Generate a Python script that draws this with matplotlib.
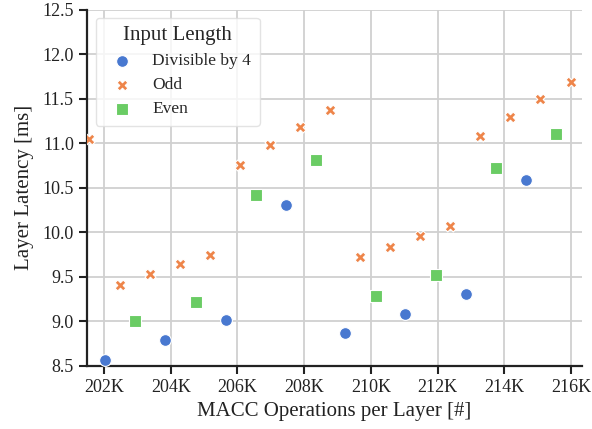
import matplotlib.pyplot as plt
import seaborn as sns
from matplotlib.ticker import FuncFormatter, MultipleLocator

# MACC operations per layer (raw counts) and latency in ms
div4_macc = [202030, 203830, 205650, 207450, 209230, 211030, 212840, 214650]
div4_lat = [8.57, 8.79, 9.02, 10.31, 8.87, 9.08, 9.31, 10.59]

odd_macc = [201550, 202470, 203380, 204280, 205180, 206080, 206980, 207880, 208780,
            209680, 210580, 211480, 212380, 213280, 214180, 215080, 215990]
odd_lat = [11.05, 9.41, 9.53, 9.64, 9.75, 10.76, 10.98, 11.18, 11.37,
           9.72, 9.84, 9.96, 10.07, 11.08, 11.30, 11.50, 11.69]

even_macc = [202930, 204750, 206560, 208360, 210160, 211950, 213760, 215550]
even_lat = [9.00, 9.22, 10.42, 10.81, 9.29, 9.52, 10.72, 11.11]

sns.set_theme(style="ticks", palette="muted")
plt.rcParams['font.family'] = ['Liberation Serif', 'DejaVu Serif']
pal = sns.color_palette("muted")

fig = plt.figure(figsize=(5.92, 4.29), dpi=100)
ax = fig.add_axes([0.147, 0.147, 0.836, 0.83])

ax.grid(True, color='#d0d0d0', linewidth=1.3)
ax.set_axisbelow(True)

ax.scatter(div4_macc, div4_lat, s=72, marker='o', color=pal[0],
           edgecolor='white', linewidth=0.8, label='Divisible by 4', zorder=3)
ax.scatter(odd_macc, odd_lat, s=62, marker='X', color=pal[1],
           edgecolor='white', linewidth=0.8, label='Odd', zorder=3)
ax.scatter(even_macc, even_lat, s=70, marker='s', color=pal[2],
           edgecolor='white', linewidth=0.8, label='Even', zorder=3)

ax.set_xlim(201490, 216330)
ax.set_ylim(8.5, 12.5)
ax.xaxis.set_major_locator(MultipleLocator(2000))
ax.yaxis.set_major_locator(MultipleLocator(0.5))
ax.xaxis.set_major_formatter(FuncFormatter(lambda v, p: f"{int(round(v / 1000))}K"))
ax.yaxis.set_major_formatter(FuncFormatter(lambda v, p: f"{v:.1f}"))

ax.tick_params(labelsize=13, width=1.5, length=6, color='#222222', labelcolor='#222222')
for s in ['left', 'bottom']:
    ax.spines[s].set_linewidth(1.6)
    ax.spines[s].set_color('#222222')
sns.despine(ax=ax)

ax.set_xlabel('MACC Operations per Layer [#]', fontsize=15, color='#222222')
ax.set_ylabel('Layer Latency [ms]', fontsize=15, color='#222222', labelpad=6)

leg = ax.legend(title='Input Length', loc='upper left', fontsize=12.5,
                title_fontsize=15, frameon=True, bbox_to_anchor=(0.018, 0.978),
                borderaxespad=0, borderpad=0.5, handletextpad=0.75,
                labelspacing=0.45)
leg.get_frame().set_edgecolor('#dddddd')

fig.savefig('out.png', dpi=100)
